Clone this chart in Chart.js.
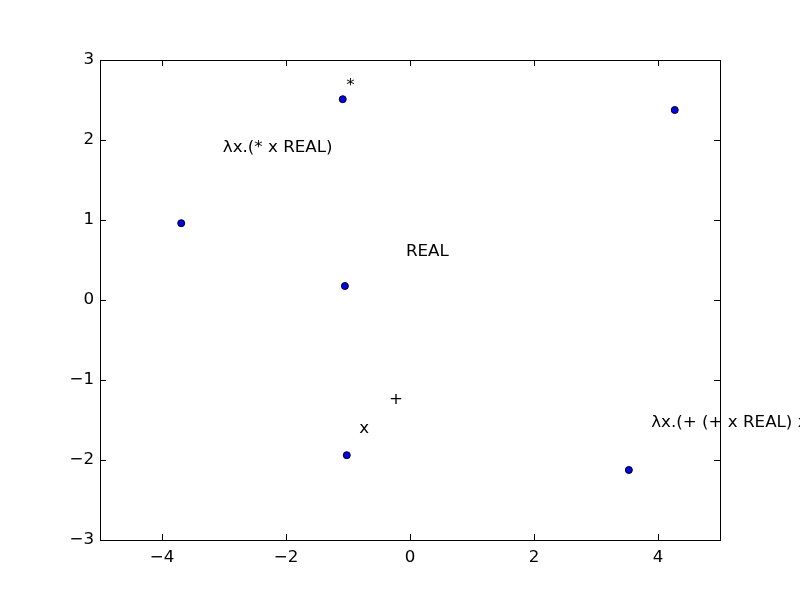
<!DOCTYPE html>
<html>
<head>
<meta charset="utf-8">
<script src="https://cdn.jsdelivr.net/npm/chart.js@4"></script>
<style>
  body { margin: 0; background: #fff; }
</style>
</head>
<body>
<canvas id="chart" width="800" height="600"></canvas>
<script>
// Scatter points
const pointX = [-3.69, -1.085, 4.27, -1.05, -1.02, 3.53];
const pointY = [0.96, 2.51, 2.375, 0.175, -1.94, -2.125];

// Text annotations (left edge, baseline in data coords)
const labelText = ['*', 'λx.(* x REAL)', 'REAL', '+', 'x', 'λx.(+ (+ x REAL) x'];
const labelX = [-1.03, -3.02, -0.065, -0.34, -0.82, 3.89];
const labelY = [2.62, 1.85, 0.55, -1.30, -1.66, -1.59];

// Axis ticks
const xTicks = [-4, -2, 0, 2, 4];
const yTicks = [-3, -2, -1, 0, 1, 2, 3];

const FONT = '16.7px "DejaVu Sans"';

const frameAndLabels = {
    id: 'frameAndLabels',
    afterDraw(chart) {
        const ctx = chart.ctx;
        const area = chart.chartArea;
        const xs = chart.scales.x;
        const ys = chart.scales.y;
        const tick = 6;

        ctx.save();
        ctx.strokeStyle = '#000';
        ctx.lineWidth = 1;
        ctx.beginPath();
        // inward ticks on all four sides
        xTicks.forEach(v => {
            const px = Math.round(xs.getPixelForValue(v)) + 0.5;
            ctx.moveTo(px, area.bottom);
            ctx.lineTo(px, area.bottom - tick);
            ctx.moveTo(px, area.top);
            ctx.lineTo(px, area.top + tick);
        });
        yTicks.forEach(v => {
            const py = Math.round(ys.getPixelForValue(v)) + 0.5;
            ctx.moveTo(area.left, py);
            ctx.lineTo(area.left + tick, py);
            ctx.moveTo(area.right, py);
            ctx.lineTo(area.right - tick, py);
        });
        ctx.stroke();
        ctx.strokeRect(area.left + 0.5, area.top + 0.5, area.right - area.left, area.bottom - area.top);

        // text annotations
        ctx.fillStyle = '#000';
        ctx.font = FONT;
        ctx.textAlign = 'left';
        ctx.textBaseline = 'alphabetic';
        labelText.forEach((t, i) => {
            ctx.fillText(t, xs.getPixelForValue(labelX[i]), ys.getPixelForValue(labelY[i]));
        });
        ctx.restore();
    }
};

const minusSign = v => String(v).replace('-', '\u2212');

new Chart(document.getElementById('chart').getContext('2d'), {
    type: 'scatter',
    data: {
        datasets: [{
            data: pointX.map((x, i) => ({ x: x, y: pointY[i] })),
            backgroundColor: '#0000ff',
            borderColor: '#000',
            borderWidth: 1,
            pointRadius: 3.5,
            pointHoverRadius: 3.5
        }]
    },
    options: {
        responsive: false,
        animation: false,
        devicePixelRatio: 1,
        layout: { padding: { left: 0, top: 60, right: 80, bottom: 0 } },
        plugins: {
            legend: { display: false },
            tooltip: { enabled: false }
        },
        scales: {
            x: {
                type: 'linear',
                min: -5,
                max: 5,
                afterBuildTicks: s => { s.ticks = xTicks.map(v => ({ value: v })); },
                afterFit: s => { s.height = 60; },
                grid: { display: false, drawTicks: false },
                border: { display: false },
                ticks: {
                    color: '#000',
                    font: { family: 'DejaVu Sans', size: 16.7 },
                    padding: 8,
                    callback: minusSign
                }
            },
            y: {
                type: 'linear',
                min: -3,
                max: 3,
                afterBuildTicks: s => { s.ticks = yTicks.map(v => ({ value: v })); },
                afterFit: s => { s.width = 100; },
                grid: { display: false, drawTicks: false },
                border: { display: false },
                ticks: {
                    color: '#000',
                    font: { family: 'DejaVu Sans', size: 16.7 },
                    padding: 6,
                    callback: minusSign
                }
            }
        }
    },
    plugins: [frameAndLabels]
});
</script>
</body>
</html>
